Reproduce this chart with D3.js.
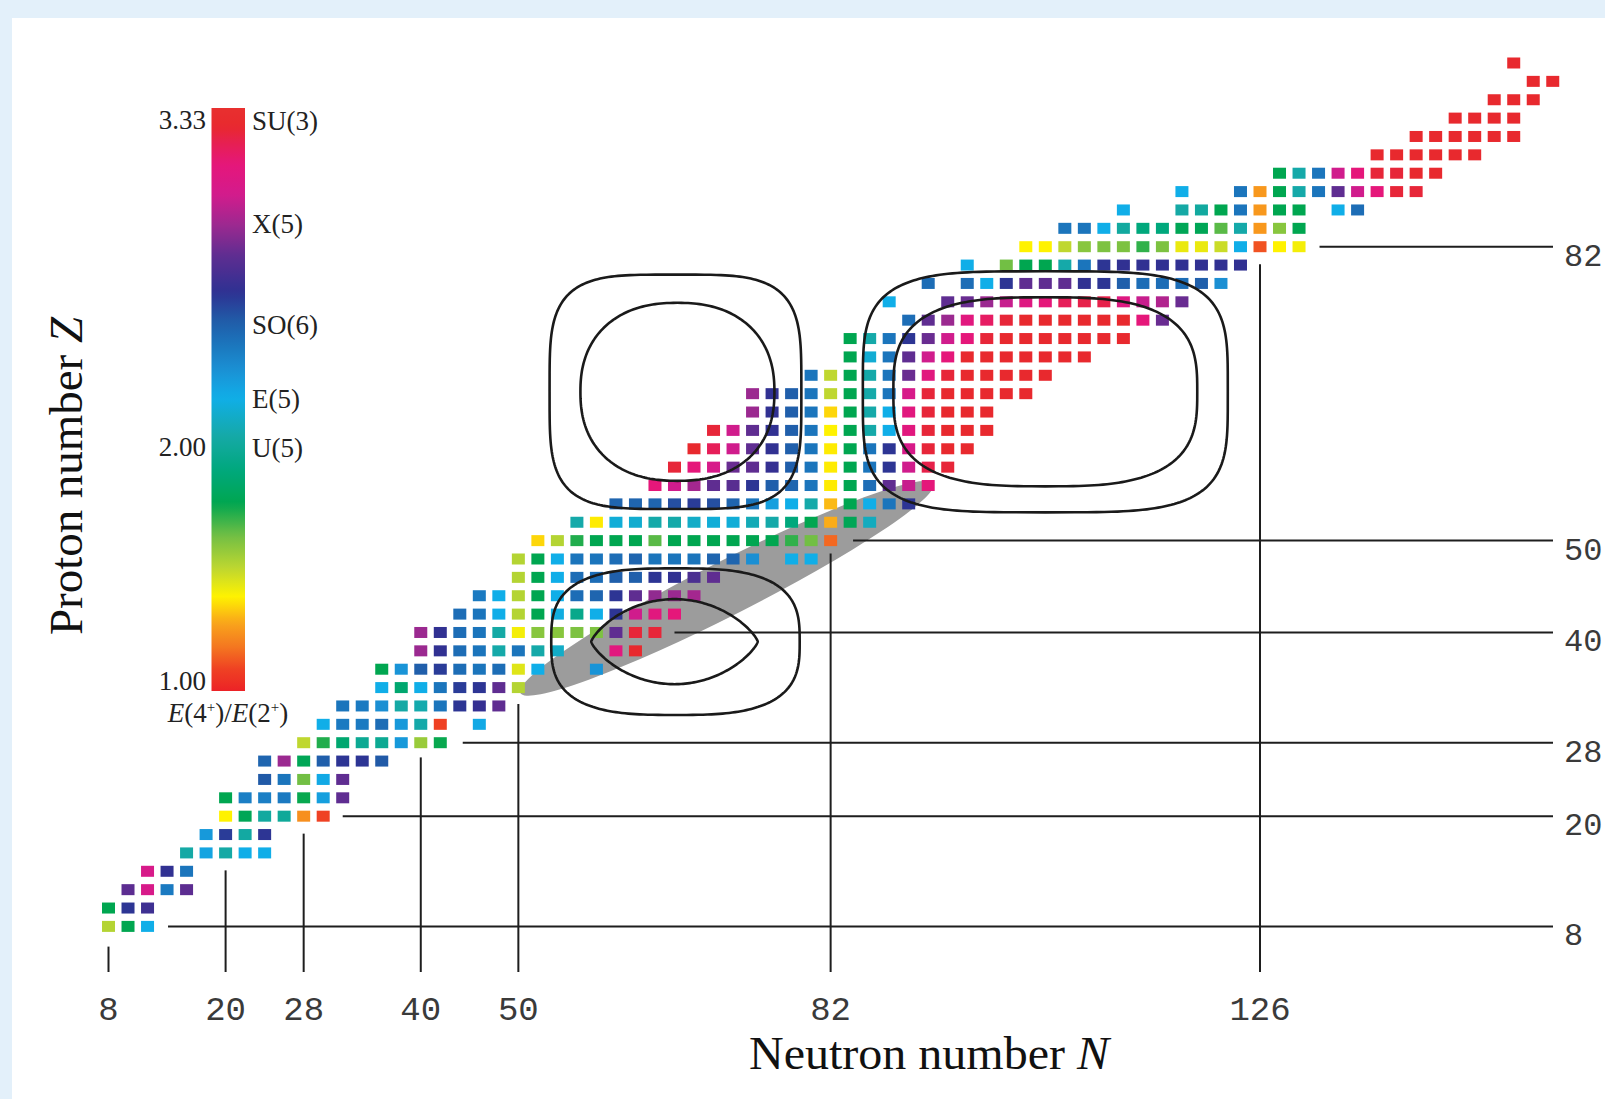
<!DOCTYPE html>
<html><head><meta charset="utf-8">
<script src="https://cdn.jsdelivr.net/npm/d3@7"></script>
<style>body{margin:0;background:#fff}svg{display:block}</style>
</head><body>
<svg id="chart" width="1605" height="1099"></svg>
<script>
// ---- data: even-even nuclei, E(4+)/E(2+) ratio read per proton row ----
const protonZ = [8,10,12,14,16,18,20,22,24,26,28,30,32,34,36,38,40,42,44,46,48,50,52,54,56,58,60,62,64,66,68,70,72,74,76,78,80,82,84,86,88,90,92,94,96,98,100,102];
const firstN  = [8,8,10,12,16,18,20,20,24,24,28,30,32,36,36,40,40,44,46,50,50,52,56,60,64,66,68,70,74,74,80,84,84,90,88,92,96,102,106,112,118,128,138,142,146,150,154,152];
const ratioRows = [
  [1.5,1.76,2.2],
  [1.76,2.62,2.68],
  [2.77,3.05,2.4,2.77],
  [3.05,2.64,2.42],
  [2.04,2.24,2.04,2.2,2.2],
  [2.28,2.6,2.03,2.62],
  [1.36,1.78,2.02,2.0,1.2,1.05],
  [1.76,2.38,2.38,2.4,1.75,2.26,2.78],
  [2.52,2.42,1.62,2.22,2.78],
  [2.48,2.9,1.78,2.5,2.62,2.62,2.52],
  [1.48,1.72,1.86,1.98,1.98,2.28,1.55,1.75],
  [2.2,2.4,2.4,2.45,2.28,2.05,1.05,null,2.22],
  [2.42,2.4,2.32,2.04,2.06,2.42,2.62,2.65,2.78],
  [2.2,1.86,2.2,2.42,2.6,2.62,2.78,1.5],
  [1.76,2.3,2.5,2.6,2.45,2.42,2.45,1.42,2.2,null,null,2.3],
  [2.9,2.64,2.45,2.42,2.05,2.42,2.05,2.12,null,null,3.12,3.3],
  [2.9,2.64,2.45,2.42,2.04,1.38,1.58,1.58,1.6,1.6,2.78,3.28,3.28],
  [2.45,2.42,2.2,1.5,1.76,2.18,1.95,2.2,2.62,3.02,3.12,3.15],
  [2.4,2.2,1.5,1.76,2.2,2.45,2.48,2.62,2.78,2.88,2.9,2.92],
  [1.5,1.76,2.2,2.45,2.45,2.5,2.5,2.62,2.64,2.72,2.78],
  [1.5,1.76,2.2,2.42,2.42,2.45,2.48,2.42,2.42,2.42,2.48,2.48,2.32,null,2.2,2.2],
  [1.32,1.5,1.72,1.76,1.76,1.76,1.65,1.76,1.76,1.76,1.76,1.76,1.76,1.7,1.62,1.12],
  [2.05,1.35,2.16,2.14,2.05,2.05,2.12,2.16,2.16,2.08,2.05,1.9,1.76,1.26,1.78,2.1],
  [2.48,2.48,2.48,2.55,2.6,2.55,2.48,2.42,2.26,2.2,2.05,1.28,1.76,2.2,2.42,2.62],
  [3.15,3.02,2.92,2.78,2.76,2.62,2.5,2.48,2.42,1.35,1.76,2.45,2.78,3.0,3.15],
  [3.28,3.15,3.05,2.8,2.78,2.65,2.5,2.42,1.35,1.76,2.42,2.62,3.02,3.25,3.28],
  [3.3,3.22,3.02,2.78,2.64,2.5,2.42,1.35,1.76,2.42,2.62,3.05,3.28,3.3,3.3],
  [3.28,3.02,2.78,2.64,2.5,2.42,1.36,1.76,2.05,2.2,3.12,3.28,3.3,3.3,3.3],
  [2.9,2.64,2.5,2.42,1.32,1.76,2.05,2.2,3.12,3.28,3.3,3.3,3.3],
  [2.9,2.64,2.5,2.42,1.48,1.76,2.05,2.42,3.05,3.28,3.3,3.3,3.3,3.3,3.3],
  [2.42,1.48,1.76,2.05,2.42,2.8,3.12,3.28,3.3,3.3,3.3,3.3,3.3],
  [1.76,2.15,2.42,2.78,3.02,3.15,3.3,3.3,3.3,3.3,3.3,3.3,3.3],
  [1.76,2.05,2.42,2.62,2.8,3.02,3.15,3.28,3.3,3.3,3.3,3.3,3.3,3.3,3.3],
  [2.45,2.78,2.9,3.12,3.2,3.28,3.3,3.3,3.3,3.3,3.3,3.3,3.15,2.8],
  [2.2,null,null,2.78,2.8,2.9,3.0,3.1,3.15,3.22,3.25,3.25,3.1,3.0,2.95,2.8],
  [2.45,null,2.45,2.2,2.62,2.78,2.78,2.78,2.64,2.62,2.5,2.45,2.45,2.45,2.5,2.32],
  [2.2,null,1.62,1.76,1.76,2.05,2.42,2.62,2.64,2.64,2.64,2.64,2.64,2.64,2.64],
  [1.36,1.36,1.48,1.58,1.6,1.6,1.7,1.6,1.4,1.4,1.46,2.2,1.08,1.36,1.38],
  [2.42,2.42,2.2,2.02,1.9,1.9,1.78,1.78,1.65,2.05,1.22,1.58,1.76],
  [2.2,null,null,2.04,2.02,1.76,2.42,1.22,1.76,1.76,null,2.2,2.45],
  [2.2,null,null,2.42,1.22,1.76,2.05,2.42,2.78,3.02,3.15,3.28,3.28],
  [1.76,2.05,2.42,3.02,3.15,3.28,3.28,3.3,3.3],
  [3.3,3.3,3.3,3.3,3.3,3.3],
  [3.3,3.3,3.3,3.3,3.3,3.3],
  [3.3,3.3,3.3,3.3],
  [3.3,3.3,3.3],
  [3.3,3.3],
  [3.3]
];

// magic numbers and the extent of their guide lines (in N / Z units)
const magicN = [8,20,28,40,50,82,126];
const magicNLineTopZ = [5.8,14.1,18.1,26.4,32.2,48.6,80.1];
const magicZ = [8,20,28,40,50,82];
const magicZLineStartN = [14.1,32.0,44.3,66.0,84.3,132.1];

// colour bar
const cbValues = [0.95,1.05,1.15,1.25,1.36,1.48,1.62,1.76,1.90,2.04,2.20,2.32,2.42,2.52,2.63,2.78,2.90,3.03,3.15,3.24,3.30,3.38];
const cbColors = ["#ec2027","#ef4123","#f47920","#f9a51b","#fff200","#bfd730","#72bf44","#00a650","#00a87c","#15a9a5","#10aee8","#1b8fd3","#1b75bc","#215aa7","#2e3192","#5f2d91","#9b2990","#d41b8c","#e5177a","#e62050","#e8292e","#e8302f"];
const cbTicks = [1.00,2.00,3.33];
const symLabels = ["SU(3)","X(5)","SO(6)","E(5)","U(5)"];
const symValues = [3.33,2.91,2.5,2.2,2.0];

// potential-energy style contours (centre N, centre Z, half-width N, half-height Z, exponents)
const contourCN = [66.1,66.3,104.0,104.0,66.1,66.0];
const contourCZ = [66.2,66.2,66.2,66.2,39.0,39.0];
const contourAN = [12.9,9.94,18.7,15.57,12.73,8.53];
const contourBZ = [12.76,9.69,13.12,10.29,7.98,4.63];
const contourNx = [4,2.3,4,3,3,2];
const contourNy = [4,2.3,4,3,3,1.3];

// grey band ends (N,Z)
const bandN = [50.2,92.5];
const bandZ = [33.4,56.2];

// ---- drawing ----
const W = 1605, H = 1099;
const svg = d3.select('#chart');
svg.append('rect').attr('width',W).attr('height',H).attr('fill','#e3f0fa');
svg.append('rect').attr('x',12).attr('y',18).attr('width',W-12).attr('height',H-18).attr('fill','#ffffff');

const x = d3.scaleLinear().domain([8,126]).range([108.5,1260]);
const y = d3.scaleLinear().domain([8,82]).range([926.4,246.7]);
const color = d3.scaleLinear().domain(cbValues).range(cbColors).interpolate(d3.interpolateRgb).clamp(true);

// grey band
{
  const x1 = x(bandN[0]), y1 = y(bandZ[0]), x2 = x(bandN[1]), y2 = y(bandZ[1]);
  const cx = (x1+x2)/2, cy = (y1+y2)/2;
  const ang = Math.atan2(y2-y1, x2-x1)*180/Math.PI;
  const rx = Math.hypot(x2-x1, y2-y1)/2;
  svg.append('ellipse').attr('cx',cx).attr('cy',cy).attr('rx',rx).attr('ry',27)
    .attr('transform',`rotate(${ang},${cx},${cy})`).attr('fill','#9c9c9c');
}

// nuclei
const nuclei = [];
protonZ.forEach((Z,i) => {
  ratioRows[i].forEach((r,j) => { if (r !== null) nuclei.push({N:firstN[i]+2*j, Z, r}); });
});
svg.append('g').selectAll('rect').data(nuclei).join('rect')
  .attr('x',d => x(d.N)-6.5).attr('y',d => y(d.Z)-5.5)
  .attr('width',13).attr('height',11)
  .attr('fill',d => color(d.r));

// magic lines
const lines = svg.append('g').attr('stroke','#1e1e1e').attr('stroke-width',2);
magicN.forEach((n,i) => {
  lines.append('line').attr('x1',x(n)).attr('x2',x(n)).attr('y1',y(magicNLineTopZ[i])).attr('y2',972);
});
magicZ.forEach((z,i) => {
  lines.append('line').attr('x1',x(magicZLineStartN[i])).attr('x2',1553).attr('y1',y(z)).attr('y2',y(z));
});

// contours
const cLine = d3.line().curve(d3.curveLinearClosed);
for (let k = 0; k < contourCN.length; k++) {
  const pts = [];
  for (let s = 0; s < 240; s++) {
    const t = s/240*2*Math.PI;
    const c = Math.cos(t), si = Math.sin(t);
    const u = Math.sign(c)*Math.pow(Math.abs(c), 2/contourNx[k]);
    const v = Math.sign(si)*Math.pow(Math.abs(si), 2/contourNy[k]);
    pts.push([x(contourCN[k] + contourAN[k]*u), y(contourCZ[k] + contourBZ[k]*v)]);
  }
  svg.append('path').attr('d',cLine(pts)).attr('fill','none').attr('stroke','#1a1a1a').attr('stroke-width',2.6);
}

// tick labels
const mono = "'Liberation Mono','Courier New',monospace";
svg.append('g').selectAll('text').data(magicN).join('text')
  .attr('x',d => x(d)).attr('y',1020).attr('text-anchor','middle')
  .attr('font-family',mono).attr('font-size',34).attr('fill','#3a3a3a')
  .text(d => d);
svg.append('g').selectAll('text').data(magicZ).join('text')
  .attr('x',1564).attr('y',d => y(d)+19).attr('text-anchor','start')
  .attr('font-family',mono).attr('font-size',32).attr('fill','#3a3a3a')
  .text(d => d);

// axis titles
const serif = "'Liberation Serif','Times New Roman',serif";
const tx = svg.append('text').attr('x',929).attr('y',1069).attr('text-anchor','middle')
  .attr('font-family',serif).attr('font-size',46).attr('fill','#111')
  .attr('textLength',360).attr('lengthAdjust','spacingAndGlyphs');
tx.append('tspan').text('Neutron number ');
tx.append('tspan').attr('font-style','italic').text('N');
const ty = svg.append('text').attr('transform','translate(82,476) rotate(-90)').attr('text-anchor','middle')
  .attr('font-family',serif).attr('font-size',46).attr('fill','#111')
  .attr('textLength',318).attr('lengthAdjust','spacingAndGlyphs');
ty.append('tspan').text('Proton number ');
ty.append('tspan').attr('font-style','italic').text('Z');

// colour bar
const cbY = d3.scaleLinear().domain([1,2,3.33]).range([681,447,120]);
const barTop = 108, barBot = 691;
const defs = svg.append('defs');
const grad = defs.append('linearGradient').attr('id','cbgrad').attr('x1',0).attr('y1',0).attr('x2',0).attr('y2',1);
for (let i = 0; i <= 80; i++) {
  const yy = barTop + (barBot-barTop)*i/80;
  grad.append('stop').attr('offset',i/80).attr('stop-color',color(cbY.invert(yy)));
}
svg.append('rect').attr('x',211.5).attr('y',barTop).attr('width',33.5).attr('height',barBot-barTop).attr('fill','url(#cbgrad)');
svg.append('g').selectAll('text').data(cbTicks).join('text')
  .attr('x',206).attr('y',d => cbY(d)+9).attr('text-anchor','end')
  .attr('font-family',serif).attr('font-size',27).attr('fill','#222')
  .text(d => d.toFixed(2));
svg.append('g').selectAll('text').data(symLabels).join('text')
  .attr('x',252).attr('y',(d,i) => cbY(symValues[i])+10).attr('text-anchor','start')
  .attr('font-family',serif).attr('font-size',27).attr('fill','#222')
  .text(d => d);
const rl = svg.append('text').attr('x',228).attr('y',722).attr('text-anchor','middle')
  .attr('font-family',serif).attr('font-size',27).attr('fill','#222');
rl.append('tspan').attr('font-style','italic').text('E');
rl.append('tspan').text('(4');
rl.append('tspan').attr('font-size',15).attr('dy',-10).text('+');
rl.append('tspan').attr('dy',10).text(')/');
rl.append('tspan').attr('font-style','italic').text('E');
rl.append('tspan').text('(2');
rl.append('tspan').attr('font-size',15).attr('dy',-10).text('+');
rl.append('tspan').attr('dy',10).text(')');
</script>
</body></html>
